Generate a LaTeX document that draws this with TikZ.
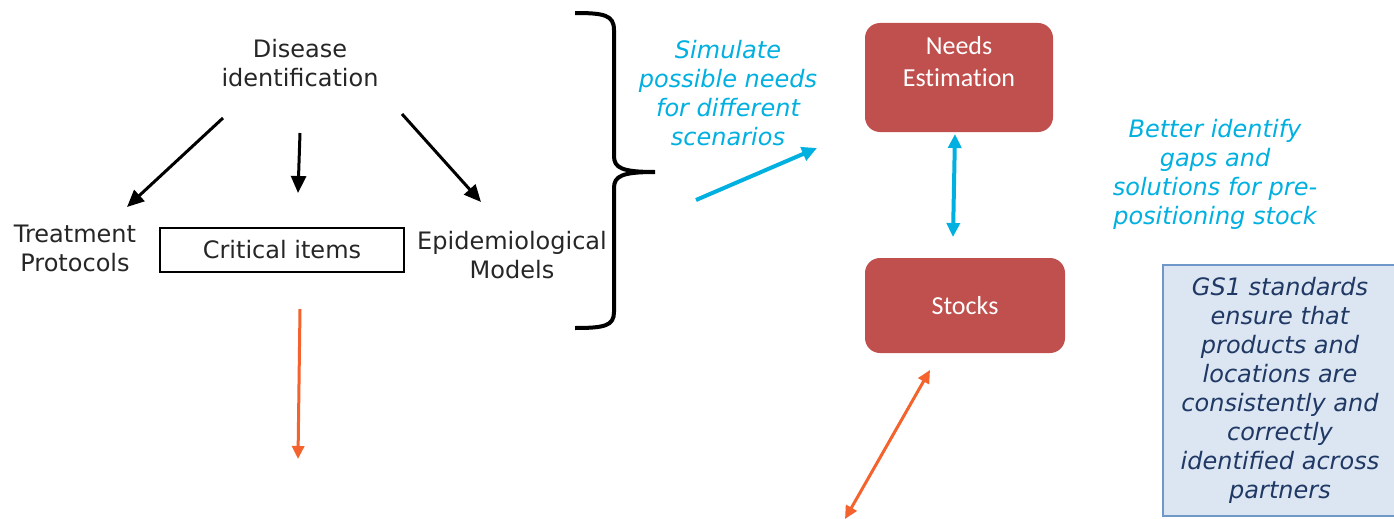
\documentclass[tikz,border=0pt]{standalone}
\usepackage{fontspec}
\usetikzlibrary{arrows.meta}
\newfontfamily\dvfont{DejaVu Sans}
\newfontfamily\crfont[Ligatures=NoCommon]{Carlito}
\definecolor{txtgray}{HTML}{262626}
\definecolor{cyanx}{HTML}{00B0E0}
\definecolor{redboxc}{HTML}{C0504D}
\definecolor{orangex}{HTML}{F4622E}
\definecolor{navyx}{HTML}{1F3864}
\definecolor{gsfill}{HTML}{DCE6F2}
\definecolor{gsborder}{HTML}{6F97C8}
\tikzset{
  plaintext/.style={inner sep=0pt, align=center, text=txtgray, font=\dvfont\fontsize{24}{29}\selectfont},
  cyantext/.style={inner sep=0pt, align=center, text=cyanx, font=\dvfont\itshape\fontsize{24}{29}\selectfont},
  redbox/.style={fill=redboxc, rounded corners=15pt, inner sep=0pt},
  redtext/.style={inner sep=0pt, align=center, text=white, font=\crfont\fontsize{26}{32}\selectfont},
  blackarrow/.style={line width=3pt, -{Triangle[length=17pt,width=15pt]}, black},
  orangearrow/.style={line width=3pt, orangex, -{Triangle[length=13pt,width=12pt]}},
  orangedouble/.style={line width=3pt, orangex, {Triangle[length=13pt,width=12pt]}-{Triangle[length=13pt,width=12pt]}},
  cyanarrow/.style={line width=4pt, cyanx, -{Triangle[length=15pt,width=14pt]}},
  cyandouble/.style={line width=4pt, cyanx, {Triangle[length=14pt,width=13pt]}-{Triangle[length=14pt,width=13pt]}},
}
\begin{document}
\begin{tikzpicture}[x=1pt,y=-1pt]
\useasboundingbox (0,0) rectangle (1394,519);
\fill[white] (0,0) rectangle (1394,519);

% left tree
\node[plaintext] (disease) at (300,63.5) {Disease\\identification};
\node[plaintext] (treat) at (75,248) {Treatment\\Protocols};
\node[plaintext, draw=black, line width=1.5pt, minimum width=244pt, minimum height=44pt] (crit) at (282,250) {Critical items};
\node[plaintext] (epi) at (512,255) {Epidemiological\\Models};

\coordinate (a1s) at (223,118); \coordinate (a1e) at (127,207);
\coordinate (a2s) at (300,133); \coordinate (a2e) at (298,193);
\coordinate (a3s) at (402,114); \coordinate (a3e) at (481,202);
\draw[blackarrow] (a1s) -- (a1e);
\draw[blackarrow] (a2s) -- (a2e);
\draw[blackarrow] (a3s) -- (a3e);

% brace
\draw[line width=4pt, black] (575,13) .. controls (604,13) and (614,15) .. (614,30) -- (614,156)
  .. controls (614,168) and (622,172) .. (655,172)
  .. controls (622,172) and (614,176) .. (614,188) -- (614,312)
  .. controls (614,326) and (604,328) .. (575,328);

% simulate
\node[cyantext] (sim) at (728,93.5) {Simulate\\possible needs\\for different\\scenarios};
\coordinate (c1s) at (696,200); \coordinate (c1e) at (817,148);
\draw[cyanarrow] (c1s) -- (c1e);

% red boxes
\node[redbox, minimum width=188pt, minimum height=109pt] (needs) at (959,77.5) {};
\node[redtext] (needstxt) at (959,62) {Needs\\Estimation};
\node[redbox, minimum width=200pt, minimum height=95pt, redtext] (stocks) at (965,305.5) {Stocks};

\coordinate (c2s) at (955,134); \coordinate (c2e) at (953,237);
\draw[cyandouble] (c2s) -- (c2e);

\node[cyantext] (better) at (1215,174.5) {Better identify\\gaps and\\solutions for pre-\\positioning stock};

% GS1 box
\node[draw=gsborder, line width=1.5pt, fill=gsfill, minimum width=234pt, minimum height=251pt, inner sep=0pt,
  align=center, text=navyx, font=\dvfont\itshape\fontsize{24}{29}\selectfont] (gs1) at (1280,390.5)
  {GS1 standards\\ensure that\\products and\\locations are\\consistently and\\correctly\\identified across\\partners};

% orange arrows
\coordinate (o1s) at (300,309); \coordinate (o1e) at (298,459);
\draw[orangearrow] (o1s) -- (o1e);
\coordinate (o2s) at (930,370); \coordinate (o2e) at (845,519);
\draw[orangedouble] (o2s) -- (o2e);
\end{tikzpicture}
\end{document}
